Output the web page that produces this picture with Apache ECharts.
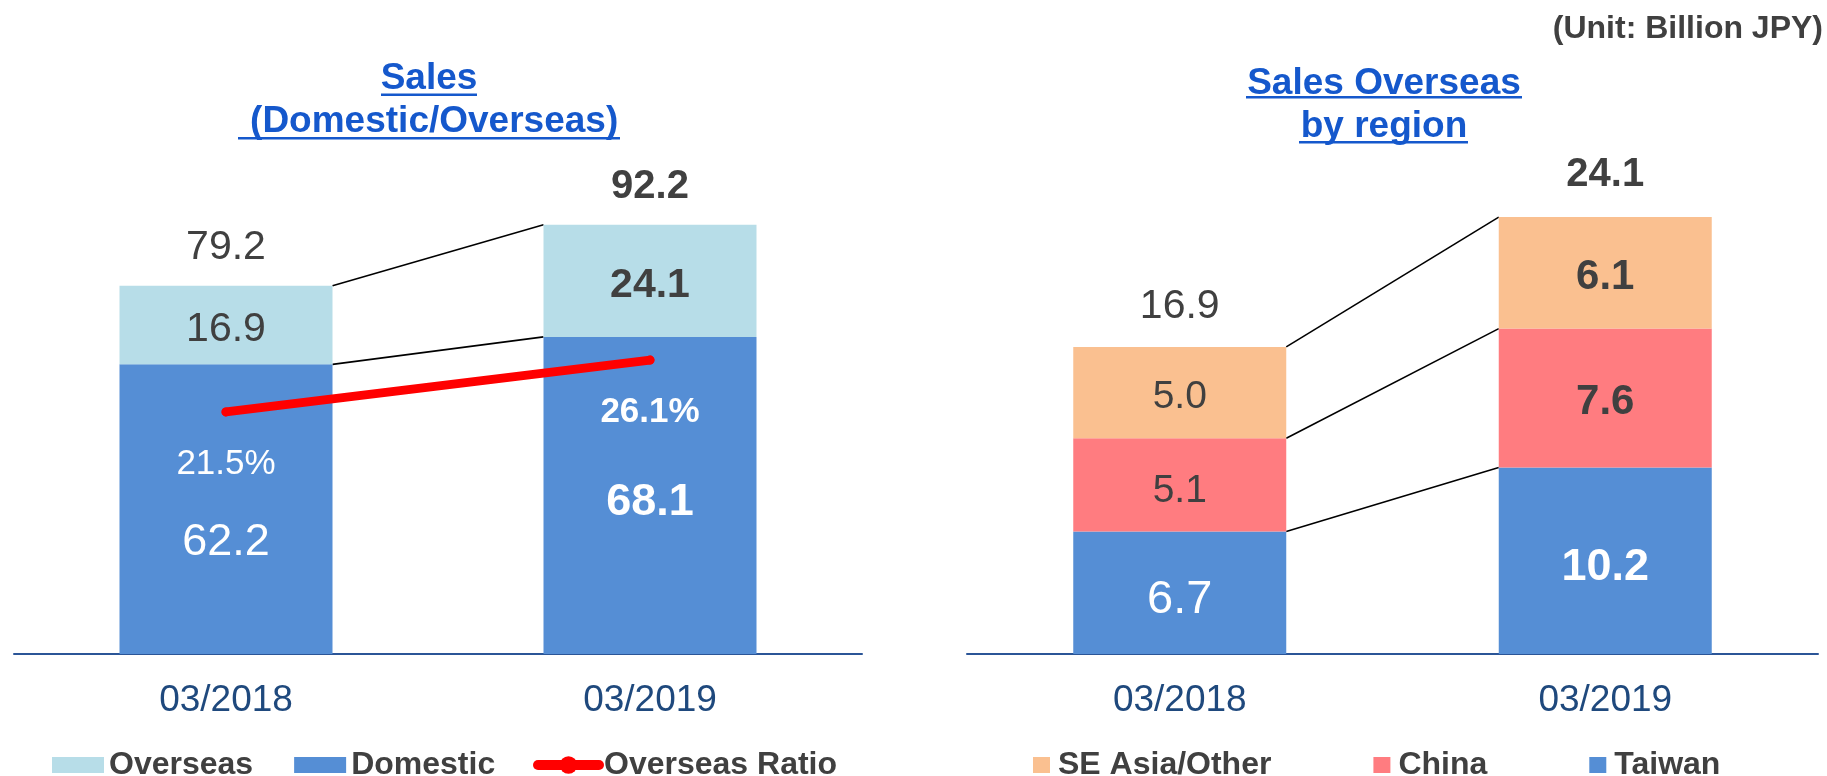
<!DOCTYPE html>
<html>
<head>
<meta charset="utf-8">
<title>Sales (Domestic/Overseas)</title>
<script src="https://cdn.jsdelivr.net/npm/echarts@6/dist/echarts.min.js"></script>
<style>
  html, body { margin: 0; padding: 0; background: #fff; }
  #main { width: 1827px; height: 776px; }
</style>
</head>
<body>
<div id="main"></div>
<script>
// values (billion JPY)
const years = ["03/2018", "03/2019"];
const domestic = [62.2, 68.1];
const overseas = [16.9, 24.1];
const salesTotal = [79.2, 92.2];
const overseasRatio = [21.5, 26.1];

const taiwan = [6.7, 10.2];
const china = [5.1, 7.6];
const seAsia = [5.0, 6.1];
const overseasTotal = [16.9, 24.1];

const FONT = "'Liberation Sans', Arial, Helvetica, sans-serif";
const DARK = "#404040";
const BLUE = "#1558CC";
const BAR_W = 213;

// the 03/2019 column is written in bold
function weight(i) { return i === 1 ? "bold" : "normal"; }

function withLabels(values, sizes, shifts) {
  return values.map((v, i) => ({
    value: v,
    label: { fontSize: sizes[i], fontWeight: weight(i), offset: [0, shifts[i]] }
  }));
}

// tops of each stack layer, used for the connector lines between bars
function layerTops(layers) {
  let acc = [0, 0];
  return layers.map(arr => {
    acc = acc.map((a, i) => +(a + arr[i]).toFixed(1));
    return [0, acc[0], acc[1]];
  });
}

function connector(params, api) {
  const a = api.coord([api.value(0), api.value(1)]);
  const b = api.coord([api.value(0) + 1, api.value(2)]);
  return {
    type: "line",
    silent: true,
    shape: { x1: a[0] + BAR_W / 2, y1: a[1], x2: b[0] - BAR_W / 2, y2: b[1] },
    style: { stroke: "#000", lineWidth: 1.6 }
  };
}

const fmt1 = p => Number(p.value).toFixed(1);

function barSeries(name, stack, axis, values, color, textColor, sizes, shifts) {
  return {
    name: name,
    type: "bar",
    stack: stack,
    xAxisIndex: axis,
    yAxisIndex: axis === 0 ? 0 : 2,
    barWidth: BAR_W,
    itemStyle: { color: color },
    label: { show: true, position: "inside", color: textColor, fontFamily: FONT, formatter: fmt1 },
    data: withLabels(values, sizes, shifts)
  };
}

function totalSeries(axis, values, sizes) {
  return {
    type: "scatter",
    xAxisIndex: axis,
    yAxisIndex: axis === 0 ? 0 : 2,
    symbolSize: 1,
    silent: true,
    itemStyle: { color: "rgba(0,0,0,0)", opacity: 1 },
    label: { show: true, position: "inside", color: DARK, fontFamily: FONT, formatter: fmt1 },
    data: withLabels(values, sizes, [-38, -38])
  };
}

const legendText = { color: DARK, fontSize: 32, fontWeight: "bold", fontFamily: FONT };

function titleText(text, x, y, size, align, color) {
  return {
    type: "text", x: x, y: y, silent: true,
    style: {
      text: text, fill: color, fontSize: size, fontWeight: "bold", fontFamily: FONT,
      align: align, textAlign: align, verticalAlign: "middle", textVerticalAlign: "middle"
    }
  };
}
function underline(x, y, w) {
  return { type: "rect", silent: true, shape: { x: x, y: y, width: w, height: 2.5 }, style: { fill: BLUE } };
}

const chart = echarts.init(document.getElementById("main"));

const option = {
  animation: false,
  backgroundColor: "#fff",
  grid: [
    { left: 14, width: 848, top: 186, bottom: 122 },
    { left: 967, width: 851, top: 186, bottom: 122 }
  ],
  xAxis: [0, 1].map(g => ({
    type: "category",
    gridIndex: g,
    data: years,
    axisLine: { lineStyle: { color: "#2B5597", width: 2 } },
    axisTick: { show: false },
    axisLabel: { color: "#1F497D", fontSize: 37, fontFamily: FONT, margin: 28 }
  })),
  yAxis: [
    { type: "value", gridIndex: 0, min: 0, max: 100.5, show: false, splitLine: { show: false } },
    { type: "value", gridIndex: 0, min: 0, max: 41.56, show: false, splitLine: { show: false } },
    { type: "value", gridIndex: 1, min: 0, max: 25.6, show: false, splitLine: { show: false } }
  ],
  legend: [
    {
      data: ["Overseas", "Domestic"], left: 47, top: 744, icon: "rect",
      itemWidth: 52, itemHeight: 16, itemGap: 41, selectedMode: false, textStyle: legendText
    },
    {
      data: ["Overseas Ratio"], left: 528, top: 744,
      itemWidth: 61, itemHeight: 22, selectedMode: false, textStyle: legendText,
      lineStyle: { width: 10 }
    },
    {
      data: ["SE Asia/Other", "China", "Taiwan"], left: 1028, top: 744, icon: "rect",
      itemWidth: 17, itemHeight: 16, itemGap: 102, selectedMode: false,
      textStyle: Object.assign({ padding: [0, 0, 0, 3] }, legendText)
    }
  ],
  graphic: [
    titleText("Sales", 429, 79, 37, "center", BLUE),
    titleText(" (Domestic/Overseas)", 429, 122, 37, "center", BLUE),
    underline(381, 93.5, 96),
    underline(238, 137, 382),
    titleText("Sales Overseas", 1384, 84, 37, "center", BLUE),
    titleText("by region", 1384, 127, 37, "center", BLUE),
    underline(1246, 96, 276),
    underline(1299, 141, 169),
    titleText("(Unit: Billion JPY)", 1823, 29, 32, "right", DARK)
  ],
  series: [
    barSeries("Domestic", "sales", 0, domestic, "#558ED5", "#fff", [45, 45], [33, 7]),
    barSeries("Overseas", "sales", 0, overseas, "#B7DDE8", DARK, [41, 41], [5, 5]),
    totalSeries(0, salesTotal, [41, 40]),
    {
      type: "custom", xAxisIndex: 0, yAxisIndex: 0, silent: true,
      renderItem: connector, encode: { x: 0, y: [1, 2] },
      data: layerTops([domestic, overseas])
    },
    {
      name: "Overseas Ratio",
      type: "line",
      xAxisIndex: 0,
      yAxisIndex: 1,
      symbol: "circle",
      symbolSize: 9,
      z: 5,
      itemStyle: { color: "#FF0000" },
      lineStyle: { color: "#FF0000", width: 9, cap: "round" },
      label: {
        show: true, position: "inside", color: "#fff", fontFamily: FONT,
        formatter: p => Number(p.value).toFixed(1) + "%"
      },
      data: withLabels(overseasRatio, [35, 35], [52, 52])
    },

    barSeries("Taiwan", "region", 1, taiwan, "#558ED5", "#fff", [47, 45], [7, 7]),
    barSeries("China", "region", 1, china, "#FF7C80", DARK, [39, 42], [6, 4]),
    barSeries("SE Asia/Other", "region", 1, seAsia, "#FAC090", DARK, [39, 42], [5, 5]),
    totalSeries(1, overseasTotal, [41, 40]),
    {
      type: "custom", xAxisIndex: 1, yAxisIndex: 2, silent: true,
      renderItem: connector, encode: { x: 0, y: [1, 2] },
      data: layerTops([taiwan, china, seAsia])
    }
  ]
};

chart.setOption(option);
window.addEventListener("resize", () => chart.resize());
</script>
</body>
</html>
